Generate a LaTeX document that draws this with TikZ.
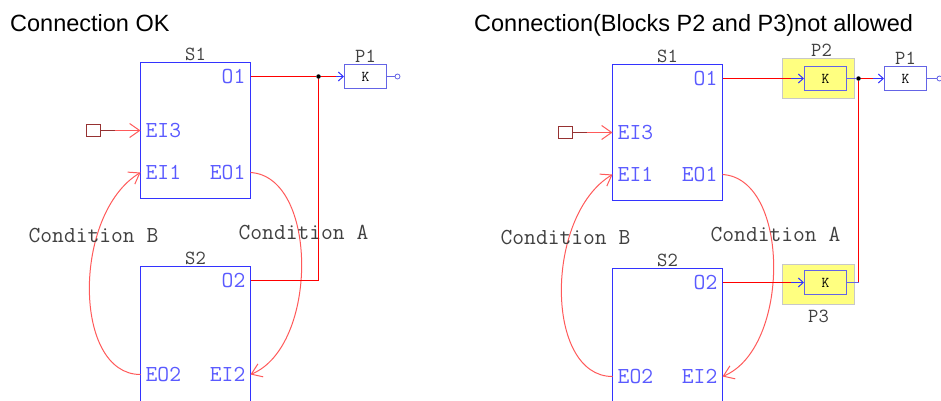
\documentclass[tikz,border=0pt]{standalone}
\usepackage{fontspec}
\setmainfont{Liberation Sans}
\usetikzlibrary{arrows.meta,positioning}

\definecolor{blkblue}{RGB}{51,51,255}
\definecolor{portblue}{RGB}{90,90,255}
\definecolor{pblue}{RGB}{100,100,230}
\definecolor{wirered}{RGB}{255,0,0}
\definecolor{curvered}{RGB}{255,90,90}
\definecolor{srcbrown}{RGB}{150,50,50}
\definecolor{txtgray}{RGB}{64,64,64}
\definecolor{hiyellow}{RGB}{255,255,128}
\definecolor{higray}{RGB}{200,200,200}

% the two blocks S1/S2 with their ports and the condition loops
\newcommand\sysblocks[1]{%
 \node[blk] (#1S1) at (194,129) {};
 \node[tag,above=0pt of #1S1] {S1};
 \node[blk] (#1S2) at (194,333) {};
 \node[tag,above=0pt of #1S2] {S2};
 \coordinate (#1o1) at (249,75);  \coordinate (#1ei3) at (139,129);
 \coordinate (#1ei1) at (139,171); \coordinate (#1eo1) at (249,171);
 \coordinate (#1o2) at (249,279); \coordinate (#1eo2) at (139,373);
 \coordinate (#1ei2) at (249,373);
 \node[port,anchor=east] at ([xshift=-4pt]#1o1) {O1};
 \node[port,anchor=west] at ([xshift=4pt]#1ei3) {EI3};
 \node[port,anchor=west] at ([xshift=4pt]#1ei1) {EI1};
 \node[port,anchor=east] at ([xshift=-4pt]#1eo1) {EO1};
 \node[port,anchor=east] at ([xshift=-4pt]#1o2) {O2};
 \node[port,anchor=west] at ([xshift=4pt]#1eo2) {EO2};
 \node[port,anchor=east] at ([xshift=-4pt]#1ei2) {EI2};
 \node[sq] (#1src) at (92,129) {};
 \draw[srcbrown,line width=1pt] (#1src) -- (113,129) coordinate (#1mid);
 \draw[loopline,barb] (#1mid) -- (#1ei3);
 \draw[loopline,barb] (#1eo1) .. controls (317,175) and (317,345) .. (#1ei2);
 \draw[loopline,barb] (#1eo2) .. controls (71,373) and (71,212) .. (#1ei1);
 \node[cond] (#1ca) at (302,231) {Condition A};
 \node[cond] (#1cb) at (92,234) {Condition B};
}

\begin{document}
\begin{tikzpicture}[x=1pt,y=-1pt,
 blk/.style={draw=blkblue,line width=1pt,minimum width=110pt,minimum height=136pt,inner sep=0pt},
 port/.style={text=portblue,font=\ttfamily\fontsize{22.9}{23}\selectfont,inner sep=1pt},
 tag/.style={text=txtgray,font=\ttfamily\fontsize{20}{20}\selectfont,inner sep=1pt},
 cond/.style={text=txtgray,font=\ttfamily\fontsize{22.9}{23}\selectfont},
 title/.style={font=\fontsize{23.5}{24}\selectfont,anchor=base west,inner sep=0pt},
 pblk/.style={draw=pblue,line width=1pt,minimum width=42pt,minimum height=24pt,inner sep=0pt,font=\ttfamily\fontsize{15}{15}\selectfont},
 hilite/.style={draw=higray,fill=hiyellow,line width=1pt,minimum width=72pt,minimum height=40pt,inner sep=0pt},
 sq/.style={draw=srcbrown,line width=1pt,minimum width=14pt,minimum height=12pt,inner sep=0pt},
 wire/.style={draw=wirered,line width=1pt},
 loopline/.style={draw=curvered,line width=1pt},
 barb/.style={-{Straight Barb[length=10pt,width=14pt]}},
 pinarr/.style={draw=blkblue,line width=1pt,-{Straight Barb[length=5pt,width=9pt]}},
 jdot/.style={circle,fill=black,inner sep=0pt,minimum size=4.5pt},
 outp/.style={circle,draw=pblue,line width=.8pt,inner sep=0pt,minimum size=5pt}]
\useasboundingbox (0,0) rectangle (941,400);
\begin{scope}[shift={(1.5,1.5)}]
\node[title] (tl) at (8.5,29.5) {Connection OK};
\node[title] (tr) at (472.5,29.5) {Connection(Blocks P2 and P3)not allowed};

% left: allowed
\sysblocks{l}
\node[jdot] (lj) at (317,75) {};
\node[pblk] (lP1) at (364,75) {K};
\node[tag,above=0pt of lP1] {P1};
\node[outp] (lout) at (396,75) {};
\draw[wire] (lo1) -- (lj);
\draw[wire] (lj) -- ++(17,0) coordinate (lpin);
\draw[pinarr] (lpin) -- (lP1);
\draw[draw=pblue,line width=1pt] (lP1) -- (lout);
\draw[wire] (lj) |- (lo2);

% right: not allowed
\begin{scope}[shift={(472,2)}]
\sysblocks{r}
\end{scope}
\node[hilite] (hP2) at (817,77) {};
\node[pblk,fill=hiyellow] (rP2) at (824,77) {K};
\node[tag,anchor=south] at (820,56) {P2};
\node[hilite] (hP3) at (817,283) {};
\node[pblk,fill=hiyellow] (rP3) at (824,281) {K};
\node[tag,below=4pt of hP3] {P3};
\node[jdot] (rj) at (857,77) {};
\node[pblk] (rP1) at (904,77) {K};
\node[tag,above=0pt of rP1] {P1};
\node[outp] (rout) at (938,77) {};
\draw[wire] (ro1) -- ++(68,0) coordinate (rpin2);
\draw[pinarr] (rpin2) -- (rP2);
\draw[draw=pblue,line width=1pt] (rP2) -- (rj);
\draw[wire] (rj) -- ++(14,0) coordinate (rpin1);
\draw[pinarr] (rpin1) -- (rP1);
\draw[draw=pblue,line width=1pt] (rP1) -- (rout);
\draw[wire] (rj) -- (rj |- rP3) coordinate (rk);
\draw[draw=pblue,line width=1pt] (rk) -- (rP3);
\draw[wire] (ro2) -- ++(68,0) coordinate (rpin3);
\draw[pinarr] (rpin3) -- (rP3);
\end{scope}
\end{tikzpicture}
\end{document}
